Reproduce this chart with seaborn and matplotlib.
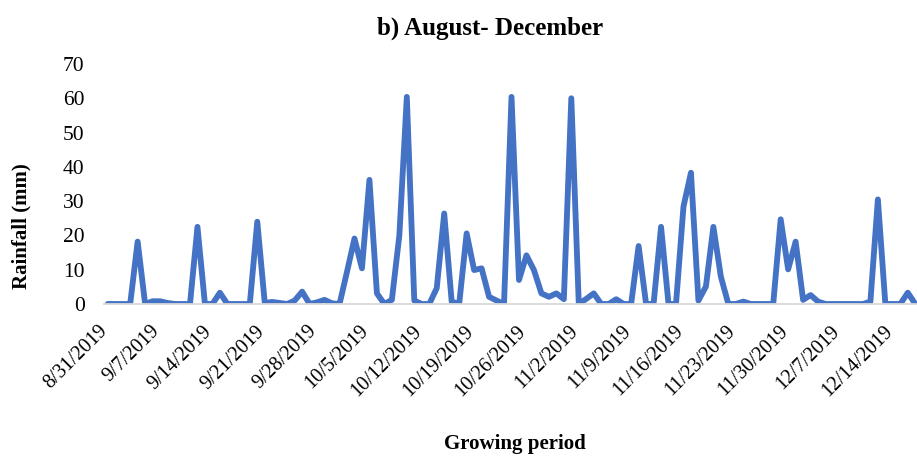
# ==========================================================
# RAINFALL AUGUST - DECEMBER 2019 (LINE CHART)
# ==========================================================

import numpy as np
import pandas as pd
import matplotlib
matplotlib.use("Agg")
import matplotlib.pyplot as plt
import seaborn as sns

# ==========================================================
# DATA (daily rainfall, 8/31/2019 onward)
# ==========================================================

rainfall_mm = [
    0, 0, 0, 0, 18.2, 0, 0.8, 0.8, 0.3, 0,
    0, 0, 22.5, 0, 0, 3.3, 0, 0, 0, 0,
    24.0, 0.3, 0.6, 0.3, 0, 1.0, 3.6, 0, 0.5, 1.2,
    0.2, 0, 9.4, 19.1, 10.4, 36.2, 3.1, 0, 1.2, 20.0,
    60.4, 1.0, 0, 0, 4.6, 26.4, 0.7, 0, 20.6, 9.9,
    10.4, 2.1, 1.0, 0, 60.4, 7.0, 14.2, 9.9, 3.1, 2.1,
    3.1, 1.4, 60.0, 0, 1.5, 3.1, 0, 0, 1.4, 0,
    0, 16.9, 0, 0, 22.5, 0, 0, 28.4, 38.3, 1.0,
    5.1, 22.5, 8.0, 0, 0, 0.7, 0, 0, 0, 0,
    24.7, 10.1, 18.2, 1.2, 2.6, 0.7, 0, 0, 0, 0,
    0, 0, 0.7, 30.5, 0, 0, 0, 3.3, 0,
]

tick_labels = [
    "8/31/2019", "9/7/2019", "9/14/2019", "9/21/2019", "9/28/2019",
    "10/5/2019", "10/12/2019", "10/19/2019", "10/26/2019", "11/2/2019",
    "11/9/2019", "11/16/2019", "11/23/2019", "11/30/2019", "12/7/2019",
    "12/14/2019",
]

y_ticks = [0, 10, 20, 30, 40, 50, 60, 70]

df = pd.DataFrame({
    "day": np.arange(len(rainfall_mm)),
    "rainfall": rainfall_mm,
})

# ==========================================================
# STYLE
# ==========================================================

sns.set_style("white")
plt.rcParams["font.family"] = ["Liberation Serif", "DejaVu Serif"]
plt.rcParams["text.color"] = "black"
plt.rcParams["xtick.color"] = "black"
plt.rcParams["ytick.color"] = "black"
plt.rcParams["axes.labelcolor"] = "black"

fig = plt.figure(figsize=(9.17, 4.57), dpi=100)
ax = fig.add_axes([104 / 917, 1 - 304 / 457, 815 / 917, 240 / 457])

# ==========================================================
# LINE
# ==========================================================

sns.lineplot(
    data=df,
    x="day",
    y="rainfall",
    color="#4472C4",
    linewidth=4.2,
    ax=ax,
)
for line in ax.lines:
    line.set_solid_joinstyle("round")
    line.set_solid_capstyle("round")

# ==========================================================
# AXES
# ==========================================================

ax.set_xlim(-0.5, len(rainfall_mm) - 0.5)
ax.set_ylim(0, 70)

ax.set_yticks(y_ticks)
ax.set_yticklabels([str(v) for v in y_ticks], fontsize=15.5, color="black")
ax.tick_params(axis="y", length=0, pad=14)

label_pos = np.arange(len(tick_labels)) * 7
ax.set_xticks(label_pos)
ax.set_xticklabels(tick_labels, fontsize=14.5, rotation=45, color="black",
                   ha="right", va="baseline", rotation_mode="anchor")
ax.tick_params(axis="x", which="major", length=0, pad=20)

ax.set_xticks(label_pos - 0.5, minor=True)
ax.tick_params(axis="x", which="minor", length=5, width=1.2,
               color="#d9d9d9", direction="out")

for side in ["top", "right", "left"]:
    ax.spines[side].set_visible(False)
ax.spines["bottom"].set_color("#d9d9d9")
ax.spines["bottom"].set_linewidth(1.3)

ax.set_xlabel("")
ax.set_ylabel("")

# ==========================================================
# TEXT
# ==========================================================

fig.text(490 / 917, 1 - 28 / 457, "b) August- December", color="black",
         ha="center", va="center", fontsize=18, fontweight="bold")
fig.text(21 / 917, 1 - 226 / 457, "Rainfall (mm)", rotation=90, color="black",
         ha="center", va="center", fontsize=15, fontweight="bold")
fig.text(515 / 917, 1 - 444 / 457, "Growing period", color="black",
         ha="center", va="center", fontsize=15, fontweight="bold")

fig.savefig("out.png", dpi=100)
